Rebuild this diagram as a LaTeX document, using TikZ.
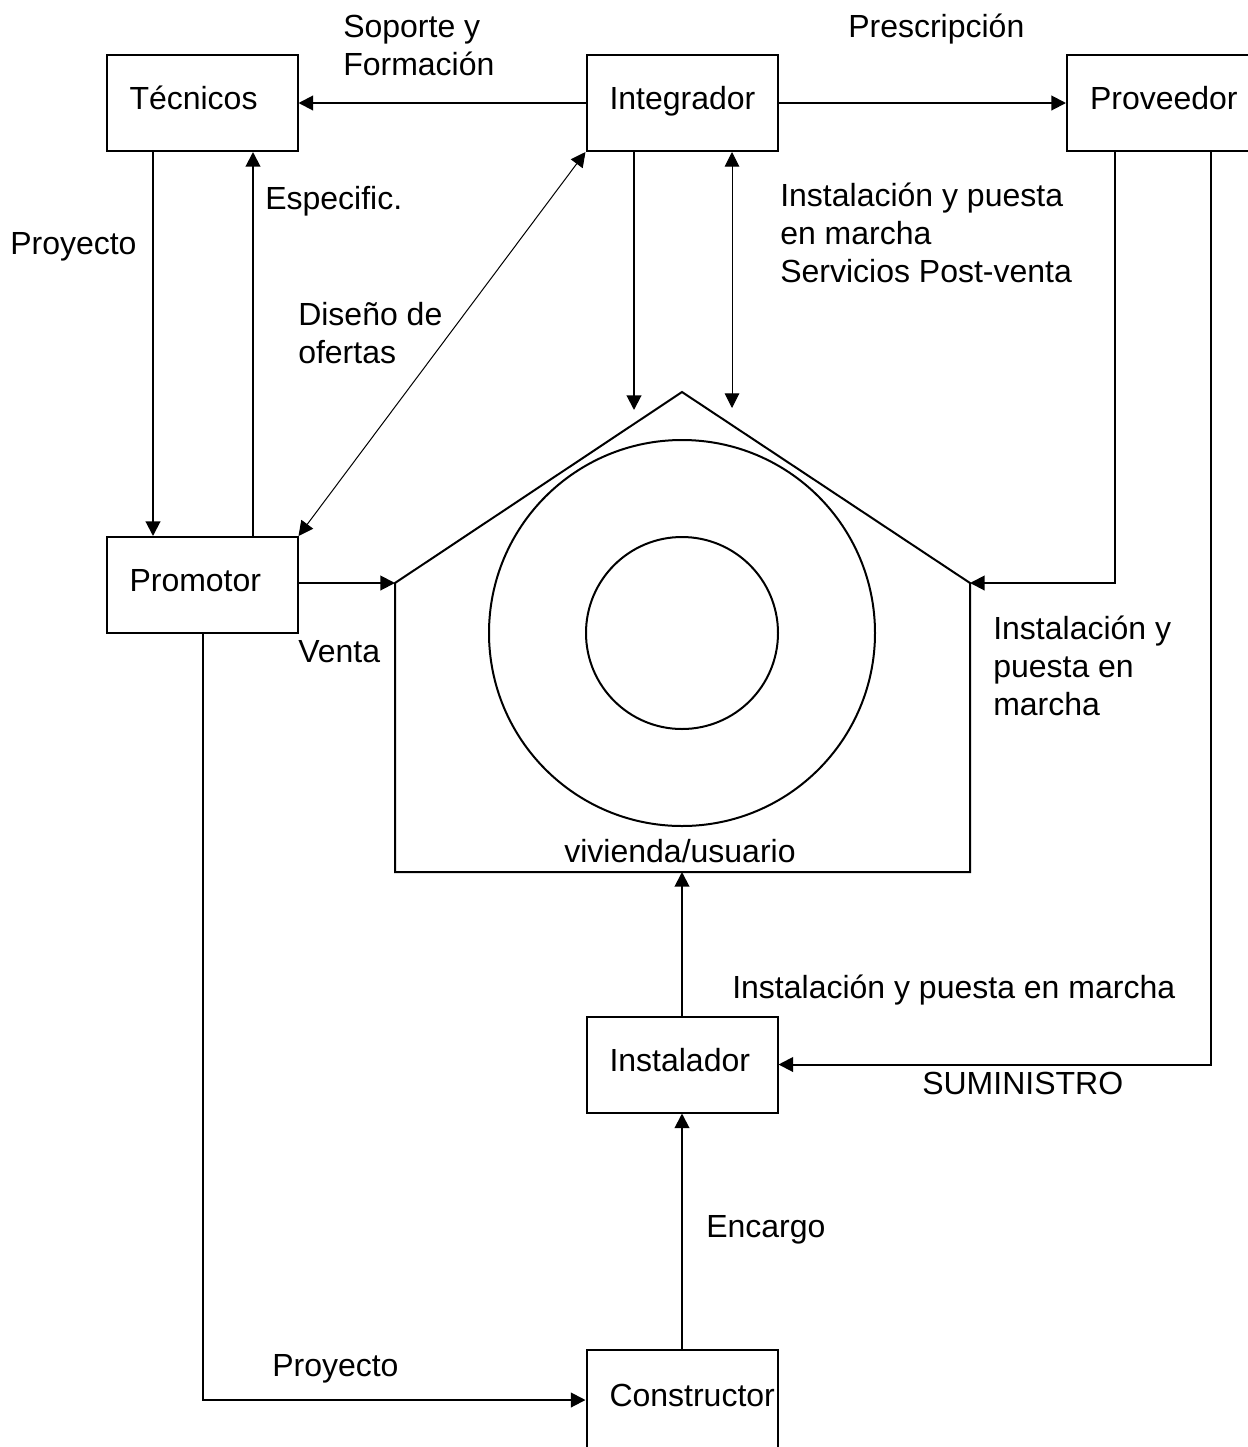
\documentclass[tikz,border=0pt]{standalone}
\usepackage{fontspec}
\setmainfont{Liberation Sans}
\usetikzlibrary{arrows.meta}
\begin{document}
\begin{tikzpicture}[x=0.75pt,y=-0.75pt,
  every node/.style={font=\fontsize{24pt}{28.2pt}\selectfont},
  box/.style={draw,line width=1.5pt,text width=108.75pt,align=left,
    inner xsep=17.25pt,inner ysep=0pt,minimum height=72pt,
    text height=17pt,text depth=7pt},
  tip/.style={Triangle[length=11pt,width=11pt]},
  conn/.style={line width=1.5pt,-{Triangle[length=11pt,width=11pt]}},
  thinconn/.style={line width=0.75pt,{Triangle[length=11pt,width=11pt]}-{Triangle[length=11pt,width=11pt]}},
  lbl/.style={anchor=base west,inner sep=0pt,align=left}]
\useasboundingbox (0,0) rectangle (1248,1447);
\clip (0,0) rectangle (1248,1447);

% actors
\node[box] (tec) at (202,103) {Técnicos};
\node[box] (int) at (682,103) {Integrador};
\node[box] (prv) at (1162.5,103) {Proveedor};
\node[box] (pro) at (202,585) {Promotor};
\node[box] (ins) at (682,1064.5) {Instalador};
\node[box,minimum height=75pt] (con) at (682,1400) {Constructor};

% the dwelling
\coordinate (apex) at (682,392);
\coordinate (hl) at (395,583);
\coordinate (hr) at (970,583);
\coordinate (hbl) at (395,872);
\coordinate (hbr) at (970,872);
\draw[line width=1.5pt,line join=miter] (hl) -- (apex) -- (hr) -- (hbr) -- (hbl) -- cycle;
\draw[line width=1.5pt] (682,633) circle[radius=144.75pt];
\draw[line width=1.5pt] (682,633) circle[radius=72pt];
\node[anchor=base,inner sep=0pt] (viv) at (680,862) {vivienda/usuario};

% free ends above the roof
\coordinate (r1) at (634,410);
\coordinate (r2) at (732,408);

% connectors
\draw[conn] (int.west) -- (tec.east);
\draw[conn] (int.east) -- (prv.west);
\draw[conn] (tec.south -| 153,0) -- (pro.north -| 153,0);
\draw[conn] (pro.north -| 253,0) -- (tec.south -| 253,0);
\draw[thinconn] (int.south west) -- (pro.north east);
\draw[conn] (int.south -| r1) -- (r1);
\draw[thinconn] (int.south -| r2) -- (r2);
\draw[conn] (prv.south -| 1115,0) |- (hr);
\draw[conn] (prv.south -| 1211,0) |- (ins.east);
\draw[conn] (pro.east |- hl) -- (hl);
\draw[conn] (ins.north) -- (ins.north |- hbl);
\draw[conn] (con.north) -- (ins.south);
\draw[conn] (pro.south -| 203,0) |- (con.west);

% labels (multi-line ones are placed by their last baseline)
\node[lbl] at (343,75) {Soporte y\\Formación};
\node[lbl] at (848,37) {Prescripción};
\node[lbl] at (265,209) {Especific.};
\node[lbl] at (10,254) {Proyecto};
\node[lbl] at (298,363) {Diseño de\\ofertas};
\node[lbl] at (780,282) {Instalación y puesta\\en marcha\\Servicios Post-venta};
\node[lbl] at (298,662) {Venta};
\node[lbl] at (993,715) {Instalación y\\puesta en\\marcha};
\node[lbl] at (732,998) {Instalación y puesta en marcha};
\node[lbl] at (922,1094) {SUMINISTRO};
\node[lbl] at (706,1237) {Encargo};
\node[lbl] at (272,1376) {Proyecto};
\end{tikzpicture}
\end{document}
